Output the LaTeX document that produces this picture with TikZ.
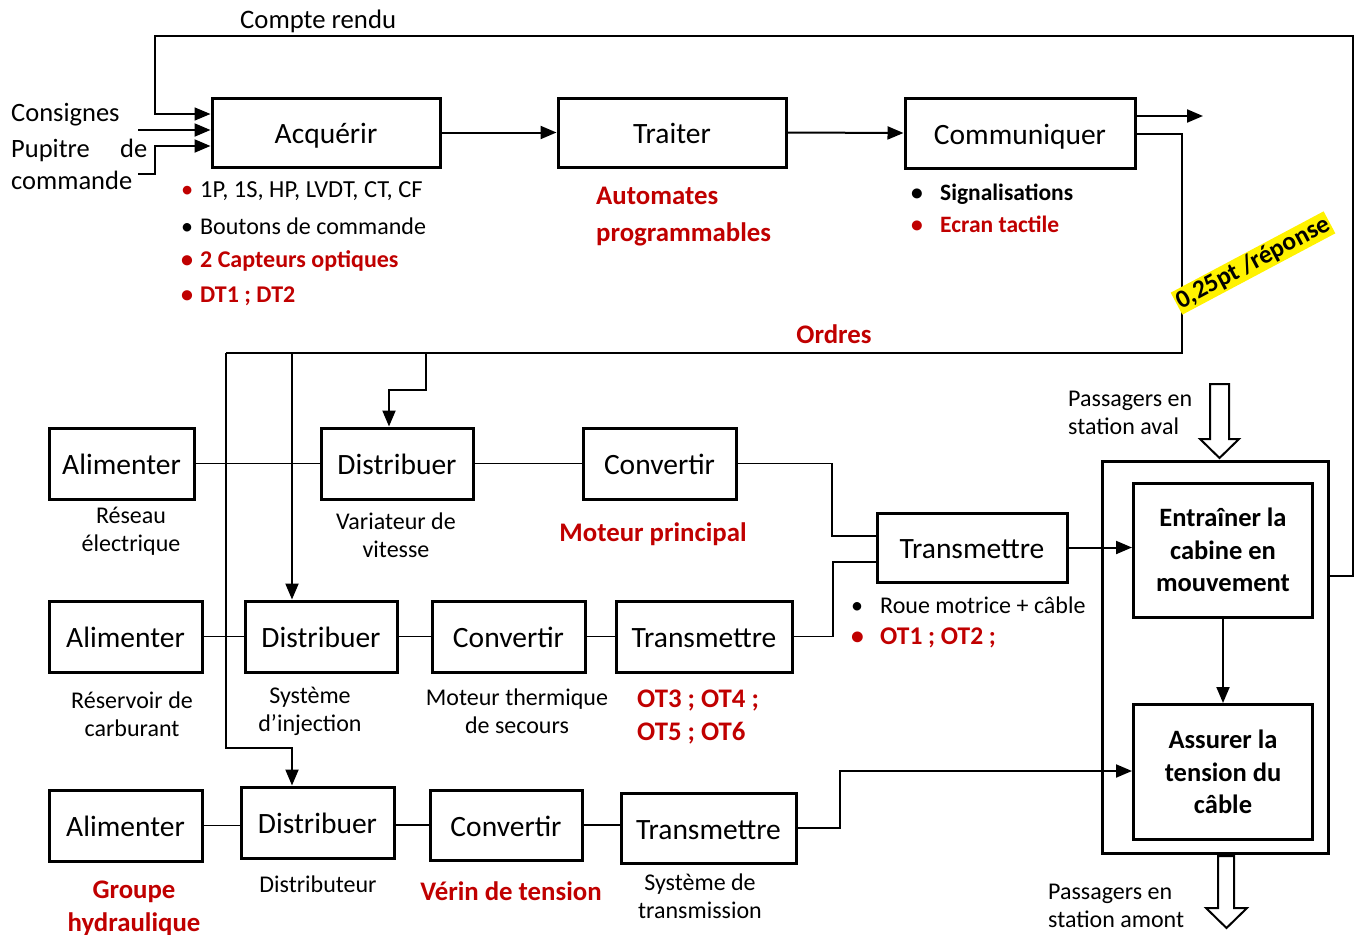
\documentclass[tikz,border=0pt]{standalone}
\usepackage{fontspec}
\setmainfont{Carlito}
\usetikzlibrary{arrows.meta,calc}
\definecolor{dred}{HTML}{C00000}
\begin{document}
\begin{tikzpicture}[x=1pt,y=-1pt,
  fb/.style={draw, line width=3pt, inner sep=0pt, text height=25pt, text depth=3pt, font=\fontsize{29.5}{31}\selectfont},
  bb/.style={draw, line width=3pt, inner sep=0pt, align=center, font=\bfseries\fontsize{26.5}{32.5}\selectfont},
  thinl/.style={line width=1.2pt},
  arr/.style={line width=2pt, -{Triangle[length=16pt,width=13pt]}},
  lbl/.style={font=\fontsize{24}{28}\selectfont, align=center, inner sep=0pt},
  txt/.style={font=\fontsize{24}{32}\selectfont, inner sep=0pt, anchor=west},
  rb/.style={font=\bfseries\fontsize{26.8}{33}\selectfont, text=dred, inner sep=0pt, align=left},
  hollow/.style={draw, line width=2pt, fill=white, line join=miter}]
\useasboundingbox (0,0) rectangle (1359,934);

% top row
\node[fb, minimum width=228pt, minimum height=69pt] (acq) at (326,132.5) {Acquérir};
\node[fb, minimum width=228pt, minimum height=69pt] (trt) at (672,132.5) {Traiter};
\node[fb, minimum width=230pt, minimum height=70pt] (com) at (1020,133) {Communiquer};

% row 1
\node[fb, minimum width=145pt, minimum height=71pt] (al1) at (121.5,463.5) {Alimenter};
\node[fb, minimum width=152pt, minimum height=71pt] (di1) at (397,463.5) {Distribuer};
\node[fb, minimum width=153pt, minimum height=71pt] (cv1) at (659.5,463.5) {Convertir};
\node[fb, minimum width=190pt, minimum height=69pt] (tr0) at (972,547.5) {Transmettre};

% row 2
\node[fb, minimum width=153pt, minimum height=71pt] (al2) at (125.5,636.5) {Alimenter};
\node[fb, minimum width=152pt, minimum height=71pt] (di2) at (321,636.5) {Distribuer};
\node[fb, minimum width=153pt, minimum height=71pt] (cv2) at (508.5,636.5) {Convertir};
\node[fb, minimum width=176pt, minimum height=71pt] (tr2) at (704,636.5) {Transmettre};

% row 3
\node[fb, minimum width=153pt, minimum height=71pt] (al3) at (125.5,825.5) {Alimenter};
\node[fb, minimum width=153pt, minimum height=71pt] (di3) at (317.5,822.5) {Distribuer};
\node[fb, minimum width=152pt, minimum height=70pt] (cv3) at (506,825) {Convertir};
\node[fb, minimum width=175pt, minimum height=70pt] (tr3) at (708.5,828) {Transmettre};

% right block
\node[draw, line width=3pt, minimum width=226pt, minimum height=392pt, inner sep=0pt] (outer) at (1215,657) {};
\node[bb, minimum width=179pt, minimum height=134pt] (ent) at (1223,550) {Entraîner la\\cabine en\\mouvement};
\node[bb, minimum width=179pt, minimum height=135pt] (ass) at (1223,772) {Assurer la\\tension du\\câble};

% top arrows
\draw[arr] (acq.east) -- (trt.west);
\draw[arr] (trt.east) -- (com.west);
\coordinate (comout) at (1203,116);
\draw[arr] (com.east |- comout) -- (comout);

% compte rendu loop
\coordinate (cr1) at (1353,36);
\coordinate (cr0) at (155,36);
\draw[line width=1.6pt, -{Triangle[length=16pt,width=13pt]}] (outer.east |- 0,576) -| (cr1) -- (cr0) |- (acq.west |- 0,114);

% consignes / pupitre
\coordinate (cs) at (138,130);
\draw[arr] (cs) -- (cs -| acq.west);
\coordinate (pp) at (138,174);
\coordinate (pq) at (155,146);
\draw[arr] (pp) -| (pq) -- (pq -| acq.west);

% ordres
\coordinate (ordR) at (1182,353);
\coordinate (ordL) at (226,353);
\draw[thinl] (com.east |- 0,134) -| (ordR) -- (ordL);
\coordinate (c3) at (292,748);
\draw[arr] (ordL) |- (c3) -- (c3 |- di3.north);
\coordinate (c2) at (292,353);
\draw[arr] (c2) -- (c2 |- di2.north);
\coordinate (c1) at (426,353);
\coordinate (c1b) at (389,390);
\draw[arr] (c1) |- (c1b) -- (c1b |- di1.north);

% row links
\draw[thinl] (al1.east) -- (di1.west |- al1.east);
\draw[thinl] (di1.east) -- (cv1.west |- di1.east);
\coordinate (j1) at (832,536);
\draw[thinl] (cv1.east) -| (j1) -- (j1 -| tr0.west);
\draw[thinl] (al2.east) -- (di2.west |- al2.east);
\draw[thinl] (di2.east) -- (cv2.west |- di2.east);
\draw[thinl] (cv2.east) -- (tr2.west |- cv2.east);
\coordinate (j2) at (833,562);
\draw[thinl] (tr2.east) -| (j2) -- (j2 -| tr0.west);
\draw[arr] (tr0.east) -- (ent.west |- tr0.east);
\draw[arr] (ent.south) -- (ass.north);
\draw[thinl] (al3.east) -- (di3.west |- al3.east);
\draw[thinl] (di3.east |- cv3.west) -- (cv3.west);
\draw[thinl] (cv3.east) -- (tr3.west |- cv3.east);
\coordinate (j3) at (840,771);
\draw[arr] (tr3.east) -| (j3) -- (j3 -| ass.west);

% hollow arrows
\draw[hollow] (1210,384) -- (1229,384) -- (1229,439) -- (1239,439) -- (1219.5,458) -- (1200,439) -- (1210,439) -- cycle;
\draw[hollow] (1218,856) -- (1234,856) -- (1234,908) -- (1247,908) -- (1226.5,928) -- (1206,908) -- (1218,908) -- cycle;

% texts top-left
\node[font=\fontsize{26.7}{30}\selectfont, inner sep=0pt, anchor=west] (crt) at (240,21) {Compte rendu};
\node[font=\fontsize{26.5}{32}\selectfont, inner sep=0pt, anchor=west] (cons) at (11,115) {Consignes};
\node[font=\fontsize{26.5}{32}\selectfont, inner sep=0pt, anchor=north west, text width=136pt, align=left] (pup) at (11,139) {Pupitre\hfill de\\commande};

% acquerir bullets
\node[txt, font=\fontsize{24.5}{30}\selectfont] (b1) at (181,191) {\makebox[19pt][l]{\color{dred}\textbullet}1P, 1S, HP, LVDT, CT, CF};
\node[txt, font=\fontsize{24}{30}\selectfont] (b2) at (181,226) {\makebox[19pt][l]{\textbullet}Boutons de commande};
\node[txt, font=\bfseries\fontsize{24}{30}\selectfont, text=dred] (b3) at (181,261) {\makebox[19pt][l]{\textbullet}2 Capteurs optiques};
\node[txt, font=\bfseries\fontsize{24}{30}\selectfont, text=dred] (b4) at (181,296) {\makebox[19pt][l]{\textbullet}DT1 ; DT2};

\node[rb, anchor=west, font=\bfseries\fontsize{26.8}{37}\selectfont] (aut) at (596,217) {Automates\\programmables};

% communiquer bullets
\node[txt, font=\bfseries\fontsize{23.5}{30}\selectfont] (s1) at (911,194) {\makebox[29pt][l]{\textbullet}Signalisations};
\node[txt, font=\bfseries\fontsize{23.5}{30}\selectfont, text=dred] (s2) at (911,224) {\makebox[29pt][l]{\textbullet}Ecran tactile};

% row 1 labels
\node[lbl] (l11) at (131,531) {Réseau\\électrique};
\node[lbl] (l12) at (396,535) {Variateur de\\vitesse};
\node[rb] (l13) at (653,534) {Moteur principal};
\node[txt, font=\fontsize{24}{30}\selectfont] (t1) at (851,605) {\makebox[29pt][l]{\textbullet}Roue motrice + câble};
\node[txt, font=\bfseries\fontsize{25.5}{30}\selectfont, text=dred] (t2) at (851,638) {\makebox[29pt][l]{\textbullet}OT1 ; OT2 ;};

\node[lbl, align=left, anchor=west] (pav) at (1068,413) {Passagers en\\station aval};

% row 2 labels
\node[lbl] (l21) at (132,714) {Réservoir de\\carburant};
\node[lbl] (l22) at (310,711) {Système\\d’injection};
\node[lbl] (l23) at (517,711) {Moteur thermique\\de secours};
\node[rb, anchor=west] (l24) at (637,717) {OT3 ; OT4 ;\\OT5 ; OT6};

% row 3 labels
\node[rb, align=center] (l31) at (134,908) {Groupe\\hydraulique};
\node[lbl] (l32) at (318,884) {Distributeur};
\node[rb] (l33) at (511,891) {Vérin de tension};
\node[lbl] (l34) at (700,896) {Système de\\transmission};

\node[lbl, align=left, anchor=west] (pam) at (1048,906) {Passagers en\\station amont};

% ordres and note
\node[rb] (ord) at (834,334) {Ordres};
\node[font=\bfseries\fontsize{25.5}{28}\selectfont, fill=yellow, inner sep=1.5pt, rotate=28] (pts) at (1253,263) {0,25pt /réponse};
\end{tikzpicture}
\end{document}
